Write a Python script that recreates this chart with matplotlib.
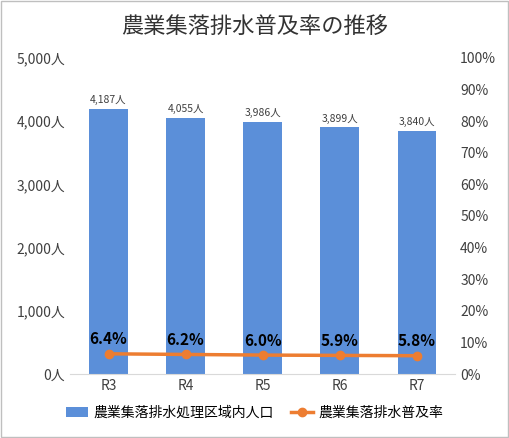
import matplotlib
matplotlib.use("Agg")
import matplotlib.pyplot as plt
from matplotlib.ticker import FuncFormatter
plt.rcParams['font.family'] = ['Noto Sans CJK JP', 'DejaVu Sans']

cats = ["R3", "R4", "R5", "R6", "R7"]
pop = [4187, 4055, 3986, 3899, 3840]
rate = [6.4, 6.2, 6.0, 5.9, 5.8]

fig = plt.figure(figsize=(5.09, 4.38), dpi=100)
ax = fig.add_axes([0.1375, 0.146, 0.757, 0.722])
x = range(len(cats))
b = ax.bar(x, pop, width=0.5, color="#5B8FD9", label="農業集落排水処理区域内人口", zorder=2)
ax.set_ylim(0, 5000)
ax.set_yticks(range(0, 5001, 1000))
ax.yaxis.set_major_formatter(FuncFormatter(lambda v, p: f"{int(v):,}人"))
ax.set_xlim(-0.5, 4.5)
ax.set_xticks(list(x))
ax.set_xticklabels(cats)
for s in ax.spines.values():
    s.set_visible(False)
ax.spines['bottom'].set_visible(True)
ax.spines['bottom'].set_color("#d9d9d9")
ax.tick_params(length=0, labelsize=10, colors="#404040")
for i, v in enumerate(pop):
    ax.text(i, v + 60, f"{v:,}人", ha="center", va="bottom", fontsize=7.5, color="#404040")

ax2 = ax.twinx()
ax2.set_ylim(0, 100)
ax2.set_yticks(range(0, 101, 10))
ax2.yaxis.set_major_formatter(FuncFormatter(lambda v, p: f"{int(v)}%"))
l, = ax2.plot(list(x), rate, color="#ED7D31", lw=2.5, marker="o", ms=6, label="農業集落排水普及率")
for s in ax2.spines.values():
    s.set_visible(False)
ax2.tick_params(length=0, labelsize=10, colors="#404040")
for i, v in enumerate(rate):
    ax2.text(i, v + 2, f"{v:.1f}%", ha="center", va="bottom", fontsize=11, fontweight="bold", color="black")

fig.text(0.5, 0.94, "農業集落排水普及率の推移", ha="center", va="center", fontsize=16, color="#333333")
fig.legend([b, l], ["農業集落排水処理区域内人口", "農業集落排水普及率"], loc="center",
           bbox_to_anchor=(0.5, 0.057), ncol=2, frameon=False, fontsize=10, handlelength=1.6,
           handletextpad=0.4, columnspacing=1.2)
fig.patches.append(plt.Rectangle((0.002, 0.002), 0.996, 0.996, transform=fig.transFigure,
                                 fill=False, edgecolor="#bfbfbf", lw=1))
fig.savefig("out.png", dpi=100)
